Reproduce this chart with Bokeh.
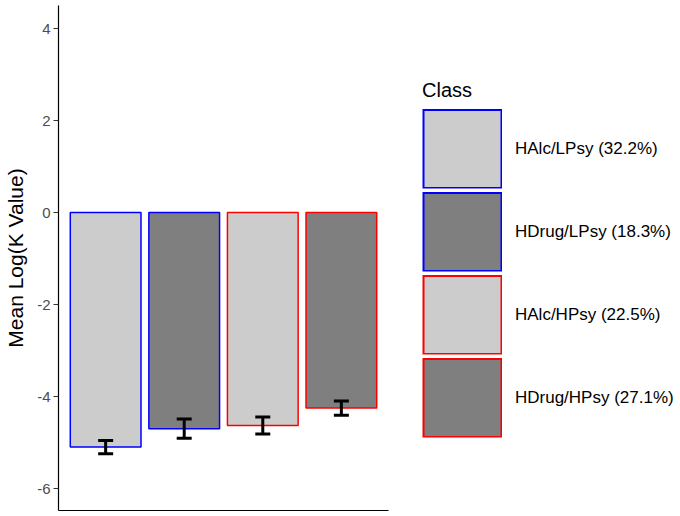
from bokeh.plotting import figure
from bokeh.models import (ColumnDataSource, FactorRange, Range1d, FixedTicker,
                          Whisker, TeeHead, Legend, LegendItem)
from bokeh.embed import file_html
from bokeh.resources import INLINE

classes = ["HAlc/LPsy (32.2%)", "HDrug/LPsy (18.3%)", "HAlc/HPsy (22.5%)", "HDrug/HPsy (27.1%)"]
means = [-5.10, -4.70, -4.63, -4.25]
se = [0.145, 0.21, 0.185, 0.155]
fill_colors = ["#CCCCCC", "#7F7F7F", "#CCCCCC", "#7F7F7F"]
line_colors = ["#0000FF", "#0000FF", "#FF0000", "#FF0000"]
y_ticks = [-6, -4, -2, 0, 2, 4]

FONT = "Liberation Sans"

src = ColumnDataSource(dict(
    cls=classes, mean=means,
    upper=[m + s for m, s in zip(means, se)],
    lower=[m - s for m, s in zip(means, se)],
    fill=fill_colors, line=line_colors,
))

p = figure(x_range=FactorRange(factors=classes, range_padding=0.1, range_padding_units="absolute"),
           y_range=Range1d(-6.478, 4.5),
           frame_width=330, frame_height=505,
           output_backend="svg", toolbar_location=None,
           min_border_left=58, min_border_top=5, min_border_bottom=6, min_border_right=0,
           background_fill_color="white", border_fill_color="white")
p.outline_line_color = None
p.xgrid.visible = False
p.ygrid.visible = False

r = p.vbar(x="cls", top="mean", bottom=0, width=0.9, source=src,
           fill_color="fill", line_color="line", line_width=1.5)

wh = Whisker(source=src, base="cls", upper="upper", lower="lower",
             line_width=3, line_color="black", level="overlay",
             upper_head=TeeHead(size=15, line_width=3, line_color="black"),
             lower_head=TeeHead(size=15, line_width=3, line_color="black"))
p.add_layout(wh)

# y axis
p.yaxis.ticker = FixedTicker(ticks=y_ticks)
p.yaxis.major_label_overrides = {t: str(t) for t in y_ticks}
p.yaxis.axis_label = "Mean Log(K Value)"
p.yaxis.axis_label_text_font = FONT
p.yaxis.axis_label_text_font_size = "21px"
p.yaxis.axis_label_text_font_style = "normal"
p.yaxis.axis_label_text_color = "black"
p.yaxis.axis_label_standoff = 7
p.yaxis.major_label_standoff = 3
p.yaxis.major_label_text_font = FONT
p.yaxis.major_label_text_font_size = "15px"
p.yaxis.major_label_text_color = "#4D4D4D"
p.yaxis.major_tick_out = 5
p.yaxis.major_tick_in = 0
p.yaxis.minor_tick_line_color = None
p.yaxis.major_tick_line_color = "#333333"
p.yaxis.axis_line_color = "black"
p.yaxis.axis_line_width = 1.2

# x axis: line only
p.xaxis.ticker = FixedTicker(ticks=[])
p.xaxis.major_tick_line_color = None
p.xaxis.minor_tick_line_color = None
p.xaxis.major_label_text_font_size = "0px"
p.xaxis.axis_line_color = "black"
p.xaxis.axis_line_width = 1.2

# legend keys: square swatches (outline + fill) built from the class colours;
# the helper renderers hold a single NaN point so they draw nothing in the plot.
KEY = 80
BORDER = 2
nan = float("nan")
items = []
for c, fc, lc in zip(classes, fill_colors, line_colors):
    outer = p.line(x=[c], y=[nan], line_color=lc, line_width=KEY)
    inner = p.line(x=[c], y=[nan], line_color=fc, line_width=KEY - 2 * BORDER,
                   line_dash=f"0 {BORDER} {KEY - 2 * BORDER} 10")
    items.append(LegendItem(label=c, renderers=[outer, inner]))

legend = Legend(items=items, title="Class", location="center_left",
                glyph_width=KEY, glyph_height=KEY, spacing=3,
                label_standoff=13, label_text_font=FONT, label_text_font_size="17px",
                label_text_color="black",
                title_text_font=FONT, title_text_font_size="20px", title_text_font_style="normal",
                title_text_color="black",
                title_standoff=7, margin=34, padding=10,
                border_line_color=None, background_fill_alpha=0)
p.add_layout(legend, "right")

open("out.html", "w").write(file_html(p, INLINE))
